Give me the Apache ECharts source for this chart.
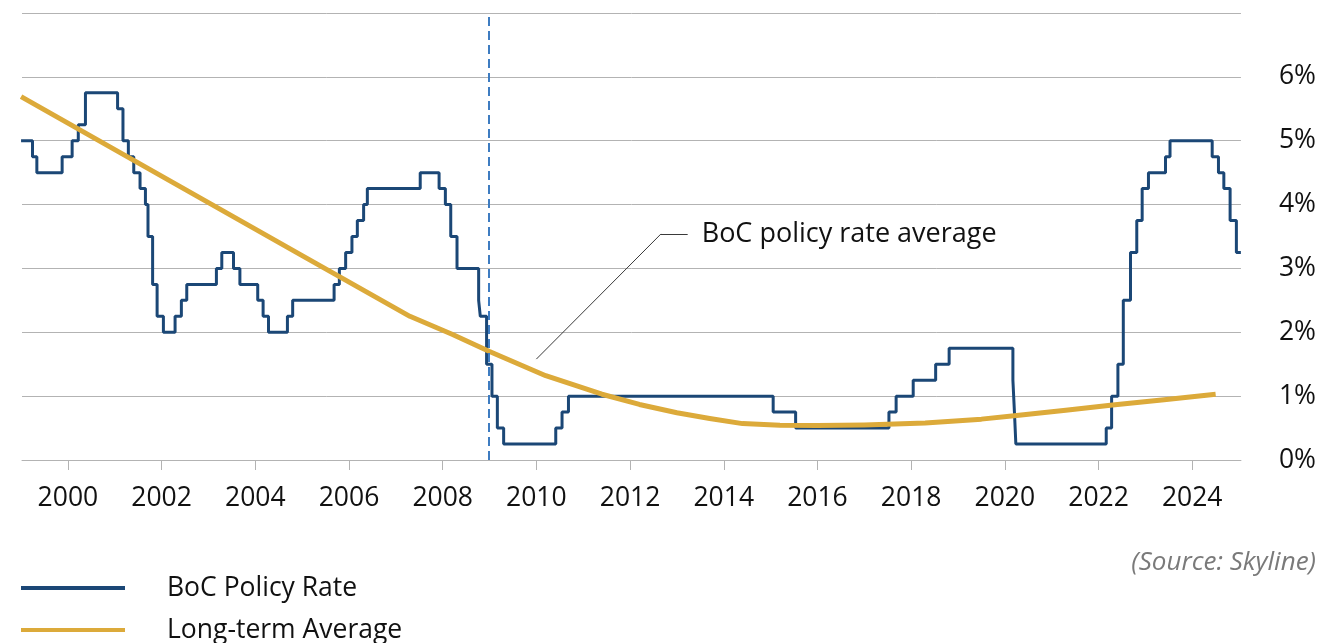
<!DOCTYPE html>
<html>
<head>
<meta charset="utf-8">
<title>BoC Policy Rate</title>
<script src="https://cdn.jsdelivr.net/npm/echarts@6/dist/echarts.min.js"></script>
<style>
  html, body { margin: 0; padding: 0; background: #ffffff; }
  #chart { width: 1319px; height: 643px; }
</style>
</head>
<body>
<div id="chart"></div>
<script>
// Bank of Canada overnight rate target: effective date of each change and new rate (%)
const rateDates = [
  '1999-01-01', '1999-03-31', '1999-05-04', '1999-11-17', '2000-02-03', '2000-03-22',
  '2000-05-17', '2001-01-23', '2001-03-06', '2001-04-17', '2001-05-29', '2001-07-17',
  '2001-08-28', '2001-09-17', '2001-10-23', '2001-11-27', '2002-01-15', '2002-04-16',
  '2002-06-04', '2002-07-16', '2003-03-04', '2003-04-15', '2003-07-15', '2003-09-03',
  '2004-01-20', '2004-03-02', '2004-04-13', '2004-09-08', '2004-10-19', '2005-09-07',
  '2005-10-18', '2005-12-06', '2006-01-24', '2006-03-07', '2006-04-25', '2006-05-24',
  '2007-07-10', '2007-12-04', '2008-01-22', '2008-03-04', '2008-04-22', '2008-10-08',
  '2008-10-21', '2008-12-09', '2009-01-20', '2009-03-03', '2009-04-21', '2010-06-01',
  '2010-07-20', '2010-09-08', '2015-01-21', '2015-07-15', '2017-07-12', '2017-09-06',
  '2018-01-17', '2018-07-11', '2018-10-24', '2020-03-04', '2020-03-16', '2020-03-27',
  '2022-03-02', '2022-04-13', '2022-06-01', '2022-07-13', '2022-09-07', '2022-10-26',
  '2022-12-07', '2023-01-25', '2023-06-07', '2023-07-12', '2024-06-05', '2024-07-24',
  '2024-09-04', '2024-10-23', '2024-12-11', '2025-01-15'
];
const rateValues = [
  5.00, 4.75, 4.50, 4.75, 5.00, 5.25,
  5.75, 5.50, 5.00, 4.75, 4.50, 4.25,
  4.00, 3.50, 2.75, 2.25, 2.00, 2.25,
  2.50, 2.75, 3.00, 3.25, 3.00, 2.75,
  2.50, 2.25, 2.00, 2.25, 2.50, 2.75,
  3.00, 3.25, 3.50, 3.75, 4.00, 4.25,
  4.50, 4.25, 4.00, 3.50, 3.00, 2.50,
  2.25, 1.50, 1.00, 0.50, 0.25, 0.50,
  0.75, 1.00, 0.75, 0.50, 0.75, 1.00,
  1.25, 1.50, 1.75, 1.25, 0.75, 0.25,
  0.50, 1.00, 1.50, 2.50, 3.25, 3.75,
  4.25, 4.50, 4.75, 5.00, 4.75, 4.50,
  4.25, 3.75, 3.25, 3.25
];

// Long-term average of the policy rate (year, %)
const avgYears = [
  1999.0, 2001.0, 2003.0, 2005.0, 2007.3, 2008.2, 2009.0, 2010.2, 2011.4, 2012.2,
  2013.0, 2013.7, 2014.4, 2015.2, 2016.0, 2017.0, 2018.3, 2019.5, 2020.3, 2021.3,
  2022.3, 2023.4, 2024.5
];
const avgValues = [
  5.69, 4.86, 4.03, 3.20, 2.25, 1.97, 1.70, 1.32, 1.03, 0.87,
  0.74, 0.65, 0.57, 0.545, 0.54, 0.55, 0.58, 0.64, 0.70, 0.78,
  0.86, 0.945, 1.03
];

// Year ticks on the time axis
const yearTicks = [2000, 2002, 2004, 2006, 2008, 2010, 2012, 2014, 2016, 2018, 2020, 2022, 2024];

// Reference marker (start of 2009) and the annotation leader line
const markerYear = 2008.99;
const leaderPoints = [[2010.0, 1.58], [2012.66, 3.54], [2013.23, 3.54]];
const leaderText = 'BoC policy rate average';

const seriesNames = ['BoC Policy Rate', 'Long-term Average'];

function toYearFraction(s) {
  const p = s.split('-').map(Number);
  const start = Date.UTC(p[0], 0, 1);
  const end = Date.UTC(p[0] + 1, 0, 1);
  return p[0] + (Date.UTC(p[0], p[1] - 1, p[2]) - start) / (end - start);
}

const rateData = rateDates.map((d, i) => [toYearFraction(d), rateValues[i]]);
const avgData = avgYears.map((y, i) => [y, avgValues[i]]);

const FONT = '"Open Sans", "Noto Sans", sans-serif';
const NAVY = '#1b4776';
const GOLD = '#dcaa3a';
const GRID = '#b3b3b3';

// One legend row per series, stacked at the bottom left
function legendRow(name, top) {
  return {
    orient: 'vertical',
    left: 21,
    top: top,
    padding: 0,
    itemWidth: 104,
    itemHeight: 4,
    icon: 'rect',
    data: [name],
    textStyle: {
      fontFamily: FONT, fontSize: 26.5, color: '#111111', lineHeight: 30,
      padding: [0, 0, 0, 37]
    }
  };
}

const chart = echarts.init(document.getElementById('chart'), null, { renderer: 'canvas' });

chart.setOption({
  animation: false,
  backgroundColor: '#ffffff',
  textStyle: { fontFamily: FONT },
  grid: { left: 22, right: 74, top: 13, bottom: 183 },
  title: {
    text: '(Source: Skyline)',
    right: 3,
    top: 547,
    padding: 0,
    textStyle: {
      fontFamily: FONT, fontSize: 26, fontStyle: 'italic', fontWeight: 'normal',
      color: '#7a7a7a', lineHeight: 32
    }
  },
  legend: [
    legendRow(seriesNames[0], 573),
    legendRow(seriesNames[1], 615)
  ],
  xAxis: {
    type: 'value',
    min: 1999.02,
    max: 2025.04,
    axisLine: { show: true, lineStyle: { color: GRID, width: 1 } },
    axisTick: {
      show: true, length: 10, inside: false,
      customValues: yearTicks,
      lineStyle: { color: GRID, width: 1 }
    },
    axisLabel: {
      customValues: yearTicks,
      formatter: v => String(Math.round(v)),
      margin: 25,
      fontFamily: FONT, fontSize: 26.5, color: '#111111'
    },
    splitLine: { show: false }
  },
  yAxis: {
    type: 'value',
    position: 'right',
    min: 0,
    max: 7,
    interval: 1,
    axisLine: { show: false },
    axisTick: { show: false },
    axisLabel: {
      formatter: '{value}%',
      showMaxLabel: false,
      margin: 38,
      fontFamily: FONT, fontSize: 26.5, color: '#111111'
    },
    splitLine: { show: true, lineStyle: { color: GRID, width: 1 } }
  },
  series: [
    {
      name: seriesNames[0],
      type: 'line',
      step: 'end',
      data: rateData,
      symbol: 'none',
      lineStyle: { color: NAVY, width: 3 },
      itemStyle: { color: NAVY },
      z: 2
    },
    {
      name: seriesNames[1],
      type: 'line',
      data: avgData,
      symbol: 'none',
      smooth: false,
      lineStyle: { color: GOLD, width: 5, join: 'round' },
      itemStyle: { color: GOLD },
      z: 3,
      markLine: {
        silent: true,
        symbol: ['none', 'none'],
        animation: false,
        data: [
          {
            xAxis: markerYear,
            lineStyle: { color: '#3e7cc1', width: 2, type: [9, 5] },
            label: { show: false }
          },
          [
            { coord: leaderPoints[0], lineStyle: { color: '#3a3a3a', width: 1, type: 'solid' }, label: { show: false } },
            { coord: leaderPoints[1] }
          ],
          [
            {
              coord: leaderPoints[1],
              lineStyle: { color: '#3a3a3a', width: 1, type: 'solid' },
              label: {
                show: true,
                position: 'end',
                distance: 14,
                formatter: leaderText,
                fontFamily: FONT, fontSize: 27, color: '#111111'
              }
            },
            { coord: leaderPoints[2] }
          ]
        ]
      }
    }
  ]
});
</script>
</body>
</html>
